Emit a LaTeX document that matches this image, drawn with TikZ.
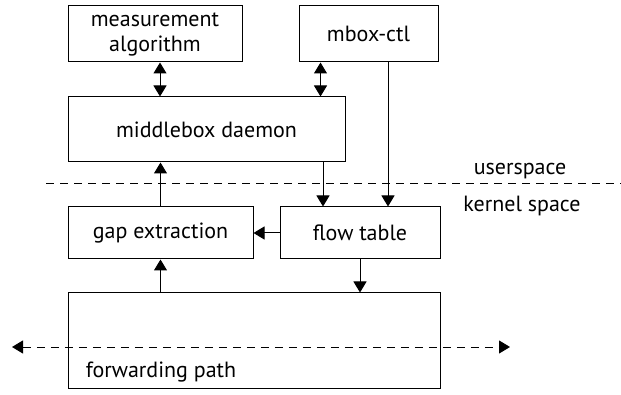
\documentclass[tikz,border=0pt]{standalone}
\usepackage{fontspec}
\setmainfont{PT Sans}
\usetikzlibrary{arrows.meta}

\begin{document}
\begin{tikzpicture}[x=1pt,y=-1pt,line width=1pt,font=\fontsize{22}{25}\selectfont,
  >={Triangle[length=11pt,width=13pt]}]
 \useasboundingbox (0,0) rectangle (621,395);
          \begin{scope}[every node/.style={draw, inner sep=0pt, align=center}]
          \node[minimum width=174pt, minimum height=56pt] (meas) at (155,34) {measurement\\algorithm};
          \node[minimum width=139pt, minimum height=56pt] (mboxctl) at (368.5,34) {mbox-ctl};
          \node[minimum width=277pt, minimum height=65pt] (daemon) at (206.5,129.5) {middlebox daemon};
          \node[minimum width=185pt, minimum height=52pt] (gap) at (160.5,233) {gap extraction};
          \node[minimum width=160pt, minimum height=52pt] (flow) at (360,233) {flow table};
          \node[minimum width=372pt, minimum height=95pt] (fwd) at (254,340.5) {};
          \end{scope}
          \node[anchor=base west] (fwdtext) at (82,377) {forwarding path};
          \node[anchor=base] (user) at (520,175) {userspace};
          \node[anchor=base] (kernel) at (522,212) {kernel space};
          \coordinate (sepL) at (46,184);
          \coordinate (sepR) at (621,184);
          \coordinate (inL) at (12,347);
          \coordinate (outR) at (510,347);
          \draw[dash pattern=on 8pt off 6pt] (sepL) -- (sepR);
          \draw[<->] ([xshift=5pt]meas.south) -- ([xshift=5pt]meas.south |- daemon.north);
          \draw[<->] ([xshift=-48pt]mboxctl.south) -- ([xshift=-48pt]mboxctl.south |- daemon.north);
          \draw[->] ([xshift=28pt]flow.north |- mboxctl.south) -- ([xshift=28pt]flow.north);
          \draw[->] ([xshift=-37pt]flow.north |- daemon.south) -- ([xshift=-37pt]flow.north);
          \draw[->] (gap.north) -- (gap.north |- daemon.south);
          \draw[->] (flow.west) -- (gap.east);
          \draw[->] (fwd.north -| gap.south) -- (gap.south);
          \draw[->] (flow.south) -- (flow.south |- fwd.north);
          \draw[<->, dash pattern=on 8pt off 6pt] (inL) -- (outR);
          \end{tikzpicture}
\end{document}
